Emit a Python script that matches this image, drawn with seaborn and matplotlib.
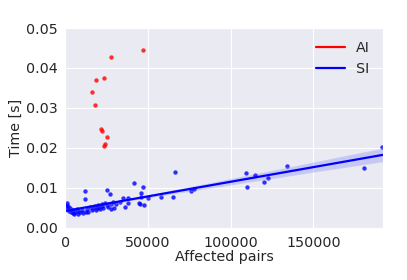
import numpy as np
import pandas as pd
import matplotlib
matplotlib.use('Agg')
import matplotlib.pyplot as plt
from matplotlib.lines import Line2D
import seaborn as sns

# AI runs
ai_pairs = [16100, 17900, 18900, 21700, 22100, 23300, 23700, 23900, 25300, 27700, 46800]
ai_time = [0.0340, 0.0308, 0.0370, 0.0247, 0.0243, 0.0205, 0.0376, 0.0210, 0.0228, 0.0427, 0.0444]

# SI runs
si_pairs = [500, 800, 1200, 1500, 2000, 2500, 3000, 3500, 4000, 4500, 5000, 5500, 6000,
            7000, 7500, 8000, 9000, 10000, 11000, 12000, 12000, 12500, 13500, 14000,
            15000, 16000, 17000, 18000, 18500, 19000, 20000, 20500, 21000, 22000, 22500,
            23000, 24000, 25000, 25500, 26000, 27000, 27500, 28000, 29000, 29500, 31000,
            33000, 35000, 36000, 37800, 37800, 41800, 44600, 45000, 45800, 46000, 46800,
            47800, 49800, 57800, 64900, 66300, 75900, 77900, 109500, 109600, 114500,
            120100, 122500, 134100, 180300, 191700]
si_time = [0.0058, 0.0052, 0.0063, 0.0047, 0.0055, 0.0043, 0.0050, 0.0040, 0.0046, 0.0038,
           0.0044, 0.0036, 0.0041, 0.0048, 0.0035, 0.0042, 0.0039, 0.0045, 0.0037, 0.0093,
           0.0073, 0.0041, 0.0047, 0.0040, 0.0052, 0.0044, 0.0049, 0.0055, 0.0045, 0.0050,
           0.0058, 0.0052, 0.0047, 0.0060, 0.0055, 0.0050, 0.0062, 0.0095, 0.0058, 0.0052,
           0.0086, 0.0061, 0.0048, 0.0066, 0.0049, 0.0060, 0.0064, 0.0074, 0.0052, 0.0076,
           0.0062, 0.0112, 0.0063, 0.0060, 0.0087, 0.0078, 0.0102, 0.0057, 0.0074, 0.0077,
           0.0078, 0.0139, 0.0093, 0.0097, 0.0137, 0.0103, 0.0132, 0.0114, 0.0126, 0.0156,
           0.0150, 0.0203]

ai = pd.DataFrame({'pairs': ai_pairs, 'time': ai_time})
si = pd.DataFrame({'pairs': si_pairs, 'time': si_time})

sns.set_style('darkgrid')
plt.rcParams['font.family'] = ['DejaVu Sans']
fs = 10.3

fig = plt.figure(figsize=(4.07, 2.8), dpi=100)
ax = fig.add_axes([0.160, 0.186, 0.781, 0.714])

sns.regplot(x='pairs', y='time', data=ai, ax=ax, fit_reg=False, color='red',
            scatter_kws={'s': 10, 'alpha': 0.8, 'linewidths': 0})
sns.regplot(x='pairs', y='time', data=si, ax=ax, color='blue', truncate=False, seed=0,
            scatter_kws={'s': 10, 'alpha': 0.8, 'linewidths': 0},
            line_kws={'lw': 1.6})

ax.set_xlim(0, 192000)
ax.set_ylim(0, 0.05)
ax.set_xticks([0, 50000, 100000, 150000])
ax.set_yticks([0, 0.01, 0.02, 0.03, 0.04, 0.05])
ax.set_yticklabels(['0.00', '0.01', '0.02', '0.03', '0.04', '0.05'])
ax.tick_params(labelsize=fs, pad=2)
ax.set_xlabel('Affected pairs', fontsize=fs, labelpad=0)
ax.set_ylabel('Time [s]', fontsize=fs, labelpad=2)

handles = [Line2D([], [], color='red', lw=1.6), Line2D([], [], color='blue', lw=1.6)]
ax.legend(handles, ['AI', 'SI'], loc='upper right', frameon=False, fontsize=fs)

fig.savefig('out.png', dpi=100)
